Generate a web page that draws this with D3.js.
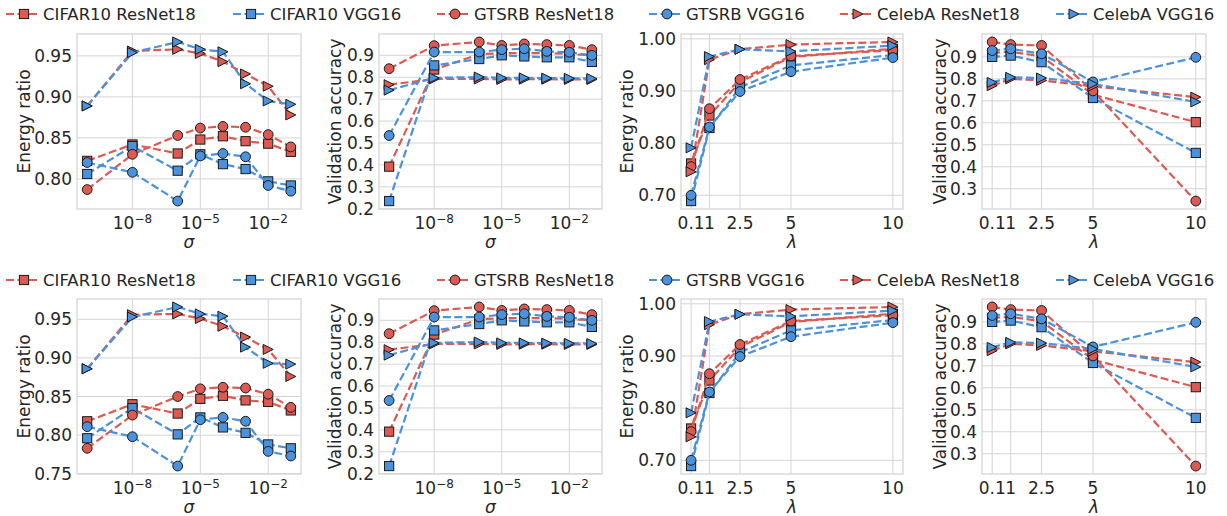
<!DOCTYPE html>
<html>
<head>
<meta charset="utf-8">
<script src="https://cdn.jsdelivr.net/npm/d3@7"></script>
<style>
  body { margin: 0; background: #fff; }
  text { font-family: "DejaVu Sans", sans-serif; fill: #262626; }
</style>
</head>
<body>
<script>
// series, in drawing order
const seriesNames = ["CIFAR10 ResNet18", "CIFAR10 VGG16", "GTSRB ResNet18", "GTSRB VGG16", "CelebA ResNet18", "CelebA VGG16"];
const seriesColors = ["#dd5a52", "#4a92dc", "#dd5a52", "#4a92dc", "#dd5a52", "#4a92dc"];
const seriesMarkers = ["square", "square", "circle", "circle", "triangle", "triangle"];

const sigmaValues = [1e-10, 1e-8, 1e-6, 1e-5, 1e-4, 1e-3, 1e-2, 1e-1];
const lambdaValues = [0.1, 1, 2.5, 5, 10];

// energy ratio vs sigma, top row
const energySigmaTop = [
  [0.822, 0.842, 0.831, 0.848, 0.852, 0.846, 0.843, 0.833],
  [0.806, 0.840, 0.810, 0.830, 0.818, 0.812, 0.797, 0.792],
  [0.787, 0.830, 0.853, 0.862, 0.864, 0.863, 0.854, 0.839],
  [0.820, 0.808, 0.773, 0.828, 0.831, 0.827, 0.792, 0.785],
  [0.889, 0.956, 0.958, 0.953, 0.943, 0.928, 0.913, 0.878],
  [0.889, 0.954, 0.967, 0.958, 0.955, 0.916, 0.895, 0.891]
];
// energy ratio vs sigma, bottom row
const energySigmaBottom = [
  [0.818, 0.840, 0.828, 0.847, 0.851, 0.845, 0.843, 0.832],
  [0.796, 0.835, 0.801, 0.823, 0.810, 0.803, 0.788, 0.783],
  [0.783, 0.826, 0.850, 0.860, 0.862, 0.861, 0.853, 0.836],
  [0.811, 0.798, 0.760, 0.820, 0.823, 0.818, 0.779, 0.773],
  [0.886, 0.956, 0.957, 0.951, 0.941, 0.927, 0.911, 0.876],
  [0.886, 0.953, 0.966, 0.957, 0.954, 0.914, 0.893, 0.892]
];
// validation accuracy vs sigma
const accSigma = [
  [0.392, 0.835, 0.905, 0.910, 0.910, 0.910, 0.906, 0.900],
  [0.235, 0.854, 0.883, 0.900, 0.895, 0.891, 0.891, 0.870],
  [0.839, 0.944, 0.961, 0.945, 0.952, 0.949, 0.945, 0.926],
  [0.534, 0.915, 0.915, 0.926, 0.930, 0.918, 0.914, 0.900],
  [0.766, 0.792, 0.792, 0.790, 0.791, 0.791, 0.790, 0.790],
  [0.741, 0.797, 0.801, 0.797, 0.797, 0.796, 0.795, 0.794]
];
// energy ratio vs lambda
const energyLambda = [
  [0.761, 0.853, 0.917, 0.965, 0.981],
  [0.689, 0.829, 0.907, 0.949, 0.969],
  [0.755, 0.866, 0.922, 0.967, 0.978],
  [0.700, 0.831, 0.899, 0.937, 0.964],
  [0.745, 0.960, 0.980, 0.989, 0.994],
  [0.791, 0.966, 0.980, 0.976, 0.987]
];
// validation accuracy vs lambda
const accLambda = [
  [0.918, 0.923, 0.903, 0.728, 0.603],
  [0.900, 0.906, 0.876, 0.713, 0.463],
  [0.968, 0.956, 0.952, 0.745, 0.244],
  [0.929, 0.937, 0.914, 0.786, 0.898],
  [0.769, 0.800, 0.793, 0.766, 0.717],
  [0.784, 0.807, 0.804, 0.777, 0.695]
];

const sigmaTicks = [1e-8, 1e-5, 1e-2];
const lambdaTicks = [0.1, 1, 2.5, 5, 10];
const lambdaTickLabels = ["0.1", "1", "2.5", "5", "10"];
const energyTicksTop = [0.80, 0.85, 0.90, 0.95];
const energyTicksBottom = [0.75, 0.80, 0.85, 0.90, 0.95];
const accSigmaTicks = [0.2, 0.3, 0.4, 0.5, 0.6, 0.7, 0.8, 0.9];
const energyLambdaTicks = [0.70, 0.80, 0.90, 1.00];
const accLambdaTicks = [0.3, 0.4, 0.5, 0.6, 0.7, 0.8, 0.9];

// layout
const W = 1227, H = 516;
const colX = [[77, 301], [379, 602], [681, 903], [982, 1206]];
const rowY = [[34, 209], [299, 474]];
const legendY = [14, 280];
const legendX = [6, 233, 437, 649, 840, 1056];
const gridColor = "#d4d4d4";
const fontSize = 17;

const svg = d3.select("body").append("svg")
  .attr("width", W)
  .attr("height", H);

function padded(lo, hi, log) {
  if (log) {
    const a = Math.log10(lo), b = Math.log10(hi), m = (b - a) * 0.05;
    return [Math.pow(10, a - m), Math.pow(10, b + m)];
  }
  const m = (hi - lo) * 0.05;
  return [lo - m, hi + m];
}

function drawMarker(g, type, x, y, color) {
  let m;
  if (type === "square") {
    m = g.append("rect").attr("x", x - 4.6).attr("y", y - 4.6).attr("width", 9.2).attr("height", 9.2);
  } else if (type === "circle") {
    m = g.append("circle").attr("cx", x).attr("cy", y).attr("r", 4.9);
  } else {
    m = g.append("path").attr("d", `M${x + 5},${y} L${x - 5},${y - 5} L${x - 5},${y + 5} Z`);
  }
  m.attr("fill", color).attr("stroke", "#1a1a1a").attr("stroke-width", 1);
}

function drawPanel(row, col, cfg) {
  const [x0, x1] = colX[col];
  const [y0, y1] = rowY[row];
  const g = svg.append("g");

  const allY = cfg.series.flat();
  const x = cfg.log ? d3.scaleLog() : d3.scaleLinear();
  x.domain(padded(d3.min(cfg.xs), d3.max(cfg.xs), cfg.log)).range([x0, x1]);
  const y = d3.scaleLinear()
    .domain(padded(d3.min(allY), d3.max(allY), false))
    .range([y1, y0]);

  // grid
  g.selectAll(".gy").data(cfg.yTicks).enter().append("line")
    .attr("x1", x0).attr("x2", x1)
    .attr("y1", d => y(d)).attr("y2", d => y(d))
    .attr("stroke", gridColor).attr("stroke-width", 1);
  g.selectAll(".gx").data(cfg.xTicks).enter().append("line")
    .attr("y1", y0).attr("y2", y1)
    .attr("x1", d => x(d)).attr("x2", d => x(d))
    .attr("stroke", gridColor).attr("stroke-width", 1);
  g.append("rect")
    .attr("x", x0).attr("y", y0).attr("width", x1 - x0).attr("height", y1 - y0)
    .attr("fill", "none").attr("stroke", gridColor).attr("stroke-width", 1.25);

  // y tick labels
  g.selectAll(".ty").data(cfg.yTicks).enter().append("text")
    .attr("x", x0 - 5).attr("y", d => y(d))
    .attr("dy", "0.36em")
    .attr("text-anchor", "end")
    .style("font-size", fontSize + "px")
    .text(d => d3.format(cfg.yFormat)(d));

  // x tick labels
  cfg.xTicks.forEach((d, i) => {
    const t = g.append("text")
      .attr("x", x(d)).attr("y", y1 + 20)
      .attr("text-anchor", "middle")
      .style("font-size", fontSize + "px");
    if (cfg.log) {
      t.append("tspan").text("10");
      t.append("tspan").attr("dy", "-0.5em").style("font-size", "12px")
        .text("\u2212" + Math.round(-Math.log10(d)));
    } else {
      t.text(cfg.xTickLabels[i]);
    }
  });

  // axis labels
  g.append("text")
    .attr("x", (x0 + x1) / 2).attr("y", y1 + 39)
    .attr("text-anchor", "middle")
    .style("font-size", fontSize + "px")
    .style("font-style", "italic")
    .text(cfg.xLabel);
  g.append("text")
    .attr("transform", `translate(${x0 - cfg.yLabelOffset},${(y0 + y1) / 2}) rotate(-90)`)
    .attr("text-anchor", "middle")
    .attr("dy", "0.36em")
    .style("font-size", fontSize + "px")
    .text(cfg.yLabel);

  // series
  const line = d3.line().x(d => x(d[0])).y(d => y(d[1]));
  cfg.series.forEach((vals, s) => {
    const pts = cfg.xs.map((xv, i) => [xv, vals[i]]);
    g.append("path")
      .attr("d", line(pts))
      .attr("fill", "none")
      .attr("stroke", seriesColors[s])
      .attr("stroke-width", 2.2)
      .attr("stroke-dasharray", "8,3.5");
    pts.forEach(p => drawMarker(g, seriesMarkers[s], x(p[0]), y(p[1]), seriesColors[s]));
  });
}

function drawLegend(yc) {
  seriesNames.forEach((name, s) => {
    const lx = legendX[s];
    const g = svg.append("g");
    g.append("line")
      .attr("x1", lx).attr("x2", lx + 33)
      .attr("y1", yc).attr("y2", yc)
      .attr("stroke", seriesColors[s]).attr("stroke-width", 2.2)
      .attr("stroke-dasharray", "8,3.5");
    drawMarker(g, seriesMarkers[s], lx + 18, yc, seriesColors[s]);
    g.append("text")
      .attr("x", lx + 37).attr("y", yc)
      .attr("dy", "0.36em")
      .style("font-size", "16.5px")
      .text(name);
  });
}

[0, 1].forEach(row => {
  drawLegend(legendY[row]);
  drawPanel(row, 0, {
    xs: sigmaValues, log: true, series: row === 0 ? energySigmaTop : energySigmaBottom,
    yTicks: row === 0 ? energyTicksTop : energyTicksBottom, yFormat: ".2f",
    xTicks: sigmaTicks, xLabel: "\u03c3", yLabel: "Energy ratio", yLabelOffset: 53
  });
  drawPanel(row, 1, {
    xs: sigmaValues, log: true, series: accSigma,
    yTicks: accSigmaTicks, yFormat: ".1f",
    xTicks: sigmaTicks, xLabel: "\u03c3", yLabel: "Validation accuracy", yLabelOffset: 44
  });
  drawPanel(row, 2, {
    xs: lambdaValues, log: false, series: energyLambda,
    yTicks: energyLambdaTicks, yFormat: ".2f",
    xTicks: lambdaTicks, xTickLabels: lambdaTickLabels,
    xLabel: "\u03bb", yLabel: "Energy ratio", yLabelOffset: 54
  });
  drawPanel(row, 3, {
    xs: lambdaValues, log: false, series: accLambda,
    yTicks: accLambdaTicks, yFormat: ".1f",
    xTicks: lambdaTicks, xTickLabels: lambdaTickLabels,
    xLabel: "\u03bb", yLabel: "Validation accuracy", yLabelOffset: 42
  });
});
</script>
</body>
</html>
